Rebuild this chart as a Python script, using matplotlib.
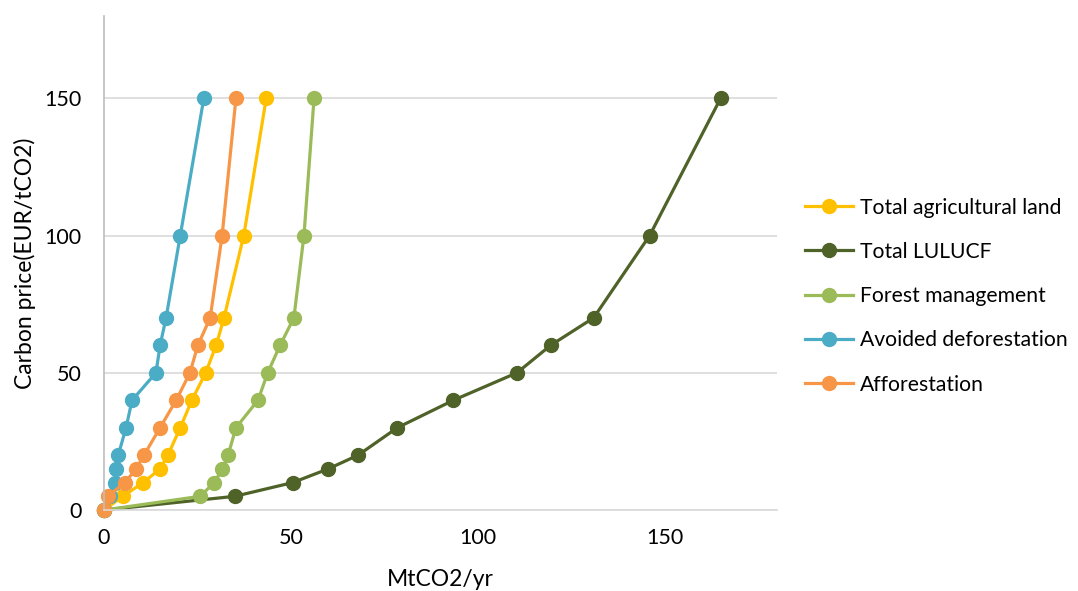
import matplotlib
matplotlib.use("Agg")
import matplotlib.pyplot as plt

plt.rcParams['font.family'] = ['Lato', 'DejaVu Sans']

# Carbon price levels (EUR/tCO2), shared by all series
price = [0, 5, 10, 15, 20, 30, 40, 50, 60, 70, 100, 150]

# Mitigation (MtCO2/yr) per carbon price
agri_land = [0, 5.0, 10.5, 15.0, 17.1, 20.4, 23.5, 27.2, 30.0, 32.1, 37.4, 43.4]
lulucf = [0, 35.0, 50.5, 60.0, 68.0, 78.5, 93.5, 110.5, 119.5, 131.0, 146.0, 165.0]
forest_mgmt = [0, 25.7, 29.5, 31.7, 33.2, 35.3, 41.2, 43.8, 47.1, 50.8, 53.5, 56.2]
avoided_defor = [0, 1.5, 3.0, 3.2, 3.8, 5.9, 7.5, 13.9, 15.0, 16.6, 20.4, 26.7]
afforestation = [0, 1.0, 5.6, 8.6, 10.7, 15.0, 19.3, 23.0, 25.1, 28.4, 31.6, 35.3]

series = [
    ("Total agricultural land", agri_land, "#FFC000"),
    ("Total LULUCF", lulucf, "#4F6228"),
    ("Forest management", forest_mgmt, "#9BBB59"),
    ("Avoided deforestation", avoided_defor, "#4BACC6"),
    ("Afforestation", afforestation, "#F79646"),
]

fig = plt.figure(figsize=(10.78, 5.91), dpi=100)
ax = fig.add_axes([0.0965, 0.137, 0.624, 0.836])

for name, xs, col in series:
    ax.plot(xs, price, color=col, lw=2.3, marker='o', ms=10,
            markeredgecolor=col, label=name, clip_on=False)

ax.set_xlim(0, 180)
ax.set_ylim(0, 180)
ax.set_xticks([0, 50, 100, 150])
ax.set_yticks([0, 50, 100, 150])
ax.grid(axis='y', color='#D9D9D9', lw=1.2)
ax.set_axisbelow(True)
for s in ['top', 'right']:
    ax.spines[s].set_visible(False)
ax.spines['left'].set_color('#BFBFBF')
ax.spines['bottom'].set_color('#D9D9D9')
ax.spines['left'].set_linewidth(1.2)
ax.spines['bottom'].set_linewidth(1.2)
ax.tick_params(length=0, labelsize=15.5, colors='#000000')
ax.tick_params(axis='y', pad=16)
ax.tick_params(axis='x', pad=13)

ax.set_xlabel("MtCO2/yr", fontsize=16.5, labelpad=15)
ax.set_ylabel("Carbon price(EUR/tCO2)", fontsize=16.5, labelpad=6)

fig.legend(loc='center left', bbox_to_anchor=(0.729, 0.499), frameon=False,
           fontsize=15.2, handlelength=2.3, labelspacing=1.15, handletextpad=0.33)

fig.savefig("out.png", dpi=100)
